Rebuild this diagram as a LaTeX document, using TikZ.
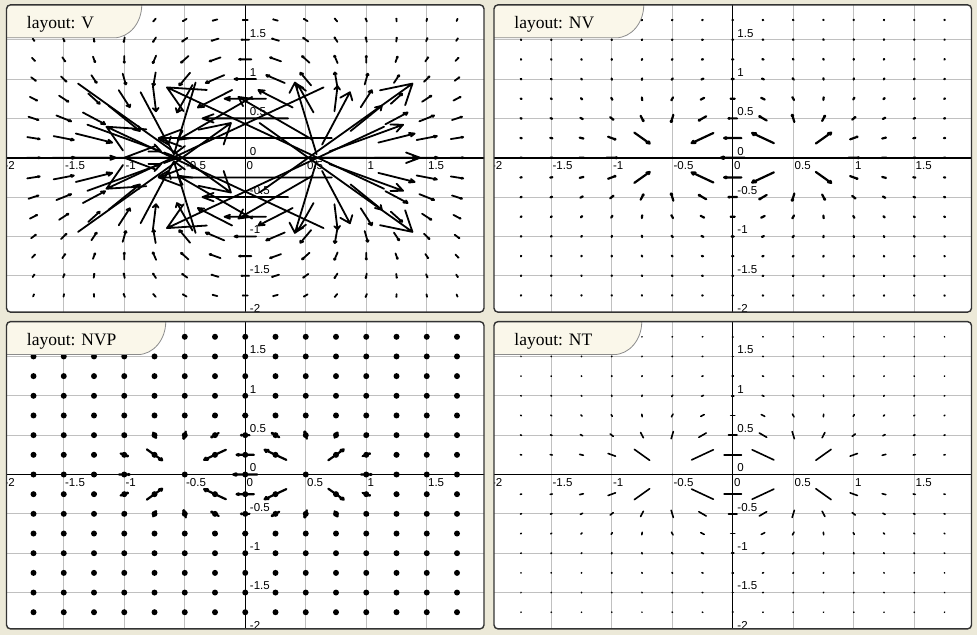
\documentclass[tikz,border=0pt]{standalone}
\usepackage{fontspec}
\setmainfont{Liberation Serif}
\newfontfamily\lsans{Liberation Sans}
\definecolor{bgc}{RGB}{236,233,216}
\definecolor{tabc}{RGB}{250,247,234}
\definecolor{gridc}{RGB}{192,192,192}
\tikzset{
  fieldline/.style={line width=1.8pt, line cap=round, line join=round},
  ticklbl/.style={anchor=base west, inner sep=0pt, font=\lsans\fontsize{11.5}{13}\selectfont, text=black},
  tablbl/.style={anchor=base west, inner sep=0pt, font=\fontsize{17.5}{20}\selectfont},
  panelframe/.style={draw=black!80, line width=1.4pt, rounded corners=4pt},
}
% #1 scale, #2 mode (0 V, 1 NV, 2 NVP, 3 NT)
\newcommand\myfield[2]{%
  \foreach \i in {-7,...,7}{%
    \foreach \j in {-7,...,7}{%
      \pgfmathsetmacro\px{0.25*\i}%
      \pgfmathsetmacro\py{0.25*\j}%
      \pgfmathsetmacro\aa{(\px-0.5)*(\px-0.5)+(\py)*(\py)}%
      \pgfmathsetmacro\bb{(\px+0.5)*(\px+0.5)+(\py)*(\py)}%
      \def\ex{0}\def\ey{0}%
      \ifdim\aa pt<0.001pt\relax\else
        \ifdim\bb pt<0.001pt\relax\else
          \pgfmathsetmacro\ka{1/(\aa*sqrt(\aa))}%
          \pgfmathsetmacro\kb{1/(\bb*sqrt(\bb))}%
          \pgfmathsetmacro\ex{(\px-0.5)*\ka-(\px+0.5)*\kb}%
          \pgfmathsetmacro\ey{(\py)*\ka-(\py)*\kb}%
        \fi
      \fi
      \pgfmathsetmacro\mag{sqrt((\ex)*(\ex)+(\ey)*(\ey))}%
      \ifdim\mag pt>12pt\relax\else
        \pgfmathsetmacro\hx{#1*0.5*(\ex)}%
        \pgfmathsetmacro\hy{#1*0.5*(\ey)}%
        \pgfmathsetmacro\tx{\px-(\hx)}%
        \pgfmathsetmacro\ty{\py-(\hy)}%
        \pgfmathsetmacro\hdx{\px+(\hx)}%
        \pgfmathsetmacro\hdy{\py+(\hy)}%
        \pgfmathsetmacro\bax{\hdx+#1*0.15*(-0.866*(\ex)+0.5*(\ey))}%
        \pgfmathsetmacro\bay{\hdy+#1*0.15*(-0.5*(\ex)-0.866*(\ey))}%
        \pgfmathsetmacro\bbx{\hdx+#1*0.15*(-0.866*(\ex)-0.5*(\ey))}%
        \pgfmathsetmacro\bby{\hdy+#1*0.15*(0.5*(\ex)-0.866*(\ey))}%
        \ifcase#2
          \draw[fieldline] (\tx,\ty) -- (\hdx,\hdy) (\bax,\bay) -- (\hdx,\hdy) -- (\bbx,\bby);
        \or
          \draw[fieldline, line width=2.2pt] (\tx,\ty) -- (\hdx,\hdy) (\bax,\bay) -- (\hdx,\hdy) -- (\bbx,\bby);
        \or
          \fill (\px,\py) circle[radius=3pt];
          \draw[fieldline, line width=2.2pt] (\tx,\ty) -- (\hdx,\hdy) (\bax,\bay) -- (\hdx,\hdy) -- (\bbx,\bby);
        \or
          \draw[fieldline, line width=1.6pt] (\tx,\ty) -- (\hdx,\hdy);
        \fi
      \fi
    }%
  }%
}
% #1 cx, #2 cy, #3 label text, #4 tab right x, #5 scale, #6 mode, #7 name
\newcommand\mypanel[7]{%
  \begin{scope}[shift={(#1,#2)}]
    \fill[white, rounded corners=4pt] (-238.75,-154.4) rectangle (238.75,152.9);
    \begin{scope}
      \clip[rounded corners=4pt] (-238.75,-154.4) rectangle (238.75,152.9);
      \begin{scope}[x=121pt,y=78.7pt]
        \foreach \g in {-2,-1.5,-1,-0.5,0.5,1,1.5,2}{
          \draw[gridc, line width=0.8pt] (\g,-2.1) -- (\g,2.1);
          \draw[gridc, line width=0.8pt] (-2.1,\g) -- (2.1,\g);
        }
        \draw[line width=1.8pt] (-2.1,0) -- (2.1,0);
        \draw[line width=1.2pt] (0,-2.1) -- (0,2.1);
        \foreach \v [count=\k] in {-2,-1.5,-1,-0.5,0,0.5,1,1.5}{
          \path (\v,0) ++(1.2pt,-12pt) node[ticklbl] (#7x\k) {\v};
        }
        \foreach \v [count=\k] in {1.5,1,0.5,0,-0.5,-1,-1.5,-2}{
          \path (0,\v) ++(4.5pt,2.6pt) node[ticklbl] (#7y\k) {\v};
        }
        \myfield{#5}{#6}
      \end{scope}
      \fill[tabc] (-241,156) -- (-241,119.9) -- ({#4-28},119.9)
        arc[start angle=-90, end angle=0, x radius=28, y radius=33] -- (#4,156) -- cycle;
    \end{scope}
    \draw[black!45, line width=0.8pt] (-238.75,119.9) -- ({#4-28},119.9)
      arc[start angle=-90, end angle=0, x radius=28, y radius=33];
    \node[tablbl] (#7lab) at (-218.5,129.2) {layout: #3};
    \draw[panelframe] (-238.75,-154.4) rectangle (238.75,152.9);
  \end{scope}%
}
\begin{document}
\begin{tikzpicture}[x=1pt,y=1pt]
  \useasboundingbox (0,0) rectangle (977,635);
  \fill[bgc] (0,0) rectangle (977,635);
  \mypanel{245.25}{477.25}{V}{-103.5}{0.25}{0}{pa}
  \mypanel{732.75}{477.25}{NV}{-89}{0.025}{1}{pb}
  \mypanel{245.25}{160.5}{NVP}{-79.5}{0.025}{2}{pc}
  \mypanel{732.75}{160.5}{NT}{-91}{0.025}{3}{pd}
\end{tikzpicture}
\end{document}
